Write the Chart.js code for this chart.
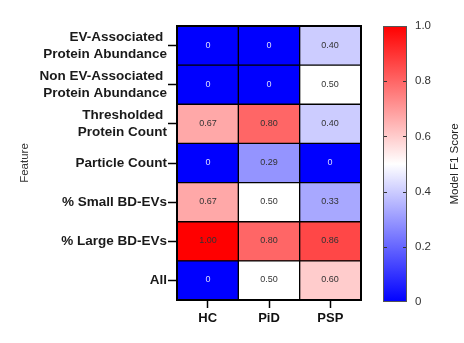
<!DOCTYPE html>
<html><head><meta charset="utf-8">
<script src="https://cdn.jsdelivr.net/npm/chart.js@4.4.1/dist/chart.umd.min.js"></script>
<style>
html,body{margin:0;padding:0;background:#fff;}
#wrap{position:relative;width:464px;height:343px;}
#wrap canvas{position:absolute;left:0;top:0;}
</style></head>
<body>
<div id="wrap">
<canvas id="main" width="464" height="343"></canvas>
<canvas id="bar" width="464" height="343"></canvas>
</div>
<script>
// ---- data ----
const groups = ['HC', 'PiD', 'PSP'];
const features = [
  ['EV-Associated ', 'Protein Abundance'],
  ['Non EV-Associated ', 'Protein Abundance'],
  ['Thresholded ', 'Protein Count'],
  'Particle Count',
  '% Small BD-EVs',
  '% Large BD-EVs',
  'All'
];
// scores per feature row (top to bottom), for HC, PiD, PSP
const hcScores  = [0, 0, 0.67, 0, 0.67, 1.00, 0];
const pidScores = [0, 0, 0.80, 0.29, 0.50, 0.80, 0.50];
const pspScores = [0.40, 0.50, 0.40, 0, 0.33, 0.86, 0.60];
const colorbarTicks = [0, 0.2, 0.4, 0.6, 0.8, 1.0];

const FONT = '"Liberation Sans", Arial, sans-serif';

function scoreColor(v){
  let r,g,b;
  if (v <= 0.5){ const t = v/0.5; r = g = Math.round(255*t); b = 255; }
  else { const t = (v-0.5)/0.5; r = 255; g = b = Math.round(255*(1-t)); }
  return `rgb(${r},${g},${b})`;
}

const n = features.length;
const scoreRows = features.map((f,i)=>[hcScores[i], pidScores[i], pspScores[i]]);
// stacked from bottom: last feature first
const datasets = [];
for (let k = n-1; k >= 0; k--){
  datasets.push({
    label: Array.isArray(features[k]) ? features[k].join('') : features[k],
    data: groups.map(()=>1),
    scores: scoreRows[k],
    backgroundColor: scoreRows[k].map(scoreColor),
    borderColor: '#000',
    borderWidth: 1,
    borderSkipped: false,
    barPercentage: 1,
    categoryPercentage: 1
  });
}

const cellText = {
  id: 'cellText',
  afterDatasetsDraw(chart){
    const ctx = chart.ctx;
    ctx.save();
    ctx.font = '9px ' + FONT;
    ctx.textAlign = 'center';
    ctx.textBaseline = 'middle';
    chart.data.datasets.forEach((ds,i)=>{
      chart.getDatasetMeta(i).data.forEach((bar,j)=>{
        const v = ds.scores[j];
        const p = bar.getCenterPoint();
        ctx.fillStyle = v === 0 ? '#dcdcff' : '#333';
        ctx.fillText(v === 0 ? '0' : v.toFixed(2), Math.round(p.x), Math.round(p.y));
      });
    });
    const a = chart.chartArea;
    ctx.strokeStyle = '#000';
    ctx.lineWidth = 2;
    ctx.strokeRect(a.left, a.top, a.right - a.left, a.bottom - a.top);
    ctx.restore();
  }
};

new Chart(document.getElementById('main'), {
  type: 'bar',
  data: { labels: groups, datasets },
  options: {
    responsive: false,
    animation: false,
    layout: { padding: { left: 18, top: 26, right: 103, bottom: 0 } },
    plugins: { legend: { display: false }, tooltip: { enabled: false } },
    scales: {
      x: {
        stacked: true,
        grid: { display: true, drawOnChartArea: false, offset: false, tickLength: 8, color: '#000', tickColor: '#000', tickWidth: 1.5 },
        border: { display: false },
        ticks: { color: '#111', font: { family: FONT, size: 13, weight: 'bold' }, padding: 3 },
        afterFit(s){ s.height = 43; }
      },
      y: {
        stacked: true,
        min: 0, max: n,
        afterBuildTicks(s){ s.ticks = features.map((f,i)=>({ value: n - 1 - i + 0.5 })); },
        ticks: {
          autoSkip: false,
          color: '#1a1a1a',
          font: { family: FONT, size: 13.5, weight: 'bold', lineHeight: 1.22 },
          padding: 1,
          callback(value){ return features[n - 1 - Math.floor(value)]; }
        },
        grid: { display: true, drawOnChartArea: false, tickLength: 9, color: '#000', tickColor: '#000', tickWidth: 1.5 },
        border: { display: false },
        title: { display: true, text: 'Feature', color: '#333', font: { family: FONT, size: 11.5 }, padding: { top: 0, bottom: 0 } },
        afterFit(s){ s.width = 159; }
      }
    }
  },
  plugins: [cellText]
});

// ---- colour bar ----
const cbExtras = {
  id: 'cbExtras',
  afterDraw(chart){
    const ctx = chart.ctx, a = chart.chartArea, y = chart.scales.y;
    ctx.save();
    ctx.strokeStyle = '#333';
    ctx.lineWidth = 1;
    colorbarTicks.forEach(v=>{
      if (v === 0 || v === 1) return;
      const py = Math.round(y.getPixelForValue(v)) + 0.5;
      ctx.beginPath();
      ctx.moveTo(a.left, py); ctx.lineTo(a.left + 4, py);
      ctx.moveTo(a.right - 4, py); ctx.lineTo(a.right, py);
      ctx.stroke();
    });
    ctx.strokeStyle = '#555';
    ctx.strokeRect(a.left + 0.5, a.top + 0.5, a.right - a.left - 1, a.bottom - a.top - 1);
    ctx.translate(455, (a.top + a.bottom) / 2);
    ctx.rotate(-Math.PI / 2);
    ctx.fillStyle = '#222';
    ctx.font = '11.5px ' + FONT;
    ctx.textAlign = 'center';
    ctx.textBaseline = 'middle';
    ctx.fillText('Model F1 Score', 0, 0);
    ctx.restore();
  }
};

new Chart(document.getElementById('bar'), {
  type: 'bar',
  data: {
    labels: [''],
    datasets: [{
      data: [[colorbarTicks[0], colorbarTicks[colorbarTicks.length-1]]],
      barPercentage: 1, categoryPercentage: 1, borderWidth: 0,
      backgroundColor(c){
        const a = c.chart.chartArea;
        if (!a) return '#fff';
        const g = c.chart.ctx.createLinearGradient(0, a.bottom, 0, a.top);
        g.addColorStop(0, scoreColor(0));
        g.addColorStop(0.5, scoreColor(0.5));
        g.addColorStop(1, scoreColor(1));
        return g;
      }
    }]
  },
  options: {
    responsive: false,
    animation: false,
    layout: { padding: { left: 383, top: 26, right: 0, bottom: 41 } },
    plugins: { legend: { display: false }, tooltip: { enabled: false } },
    scales: {
      x: { display: false },
      y: {
        position: 'right',
        min: 0, max: 1,
        afterBuildTicks(s){ s.ticks = colorbarTicks.map(v=>({ value: v })); },
        grid: { display: false, drawTicks: false },
        border: { display: false },
        ticks: {
          color: '#333', padding: 8,
          font: { family: FONT, size: 11.5 },
          callback(v){ return v === 0 ? '0' : v.toFixed(1); }
        },
        afterFit(s){ s.width = 57; }
      }
    }
  },
  plugins: [cbExtras]
});
</script>
</body></html>
